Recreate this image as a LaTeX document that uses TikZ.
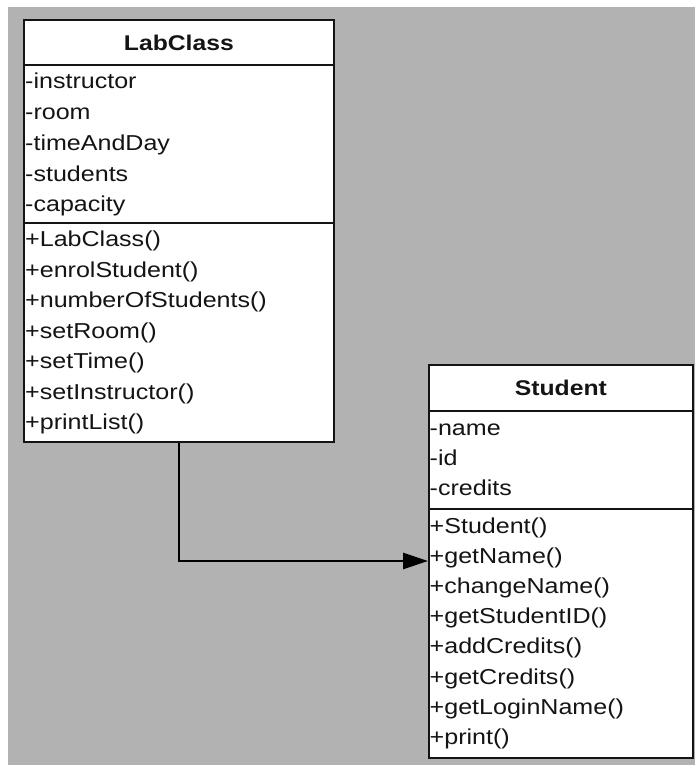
\documentclass[tikz,border=0pt]{standalone}
\usepackage{fontspec}
\setmainfont[FakeStretch=1.16]{Liberation Sans}
\usetikzlibrary{arrows.meta}
\definecolor{bggray}{RGB}{178,178,178}
\definecolor{ink}{RGB}{20,20,20}
\tikzset{
  box/.style={draw=ink, line width=1.8pt, fill=white, inner sep=0pt, rectangle},
  head/.style={box, font=\fontsize{21.3}{25}\selectfont\bfseries, text=ink},
  txt/.style={inner sep=0pt, anchor=base west, font=\fontsize{21.6}{25}\selectfont, text=ink},
  assoc/.style={draw=black, line width=2.8pt, -{Triangle[length=25pt,width=16pt]}}
}
\begin{document}
\begin{tikzpicture}[x=1pt,y=-1pt]
\useasboundingbox (0,0) rectangle (695,765);
\fill[white] (0,0) rectangle (695,765);
\fill[bggray] (8,7) rectangle (695,765);

% LabClass
\node[head, minimum width=310pt, minimum height=45pt, anchor=north west] (lch) at (23,19) {LabClass};
\node[box, minimum width=310pt, minimum height=158pt, anchor=north west] (lca) at (23,64) {};
\node[box, minimum width=310pt, minimum height=219pt, anchor=north west] (lcm) at (23,222) {};
\foreach \t [count=\i from 0] in {-instructor,-room,-timeAndDay,-students,-capacity}
  \node[txt] (lca\i) at (25,{89+30.7*\i}) {\t};
\foreach \t [count=\i from 0] in {+LabClass(),+enrolStudent(),+numberOfStudents(),+setRoom(),+setTime(),+setInstructor(),+printList()}
  \node[txt] (lcm\i) at (25,{246.7+30.5*\i}) {\t};

% Student
\node[head, minimum width=264pt, minimum height=46pt, anchor=north west] (sth) at (428,364) {Student};
\node[box, minimum width=264pt, minimum height=98pt, anchor=north west] (sta) at (428,410) {};
\node[box, minimum width=264pt, minimum height=249pt, anchor=north west] (stm) at (428,508) {};
\foreach \t [count=\i from 0] in {-name,-id,-credits}
  \node[txt] (sta\i) at (429.5,{435+30*\i}) {\t};
\foreach \t [count=\i from 0] in {+Student(),+getName(),+changeName(),+getStudentID(),+addCredits(),+getCredits(),+getLoginName(),+print()}
  \node[txt] (stm\i) at (429.5,{533+30.2*\i}) {\t};

% association
\coordinate (tgt) at (stm.west |- 0,561);
\draw[assoc] (lcm.south) |- (tgt);
\end{tikzpicture}
\end{document}
